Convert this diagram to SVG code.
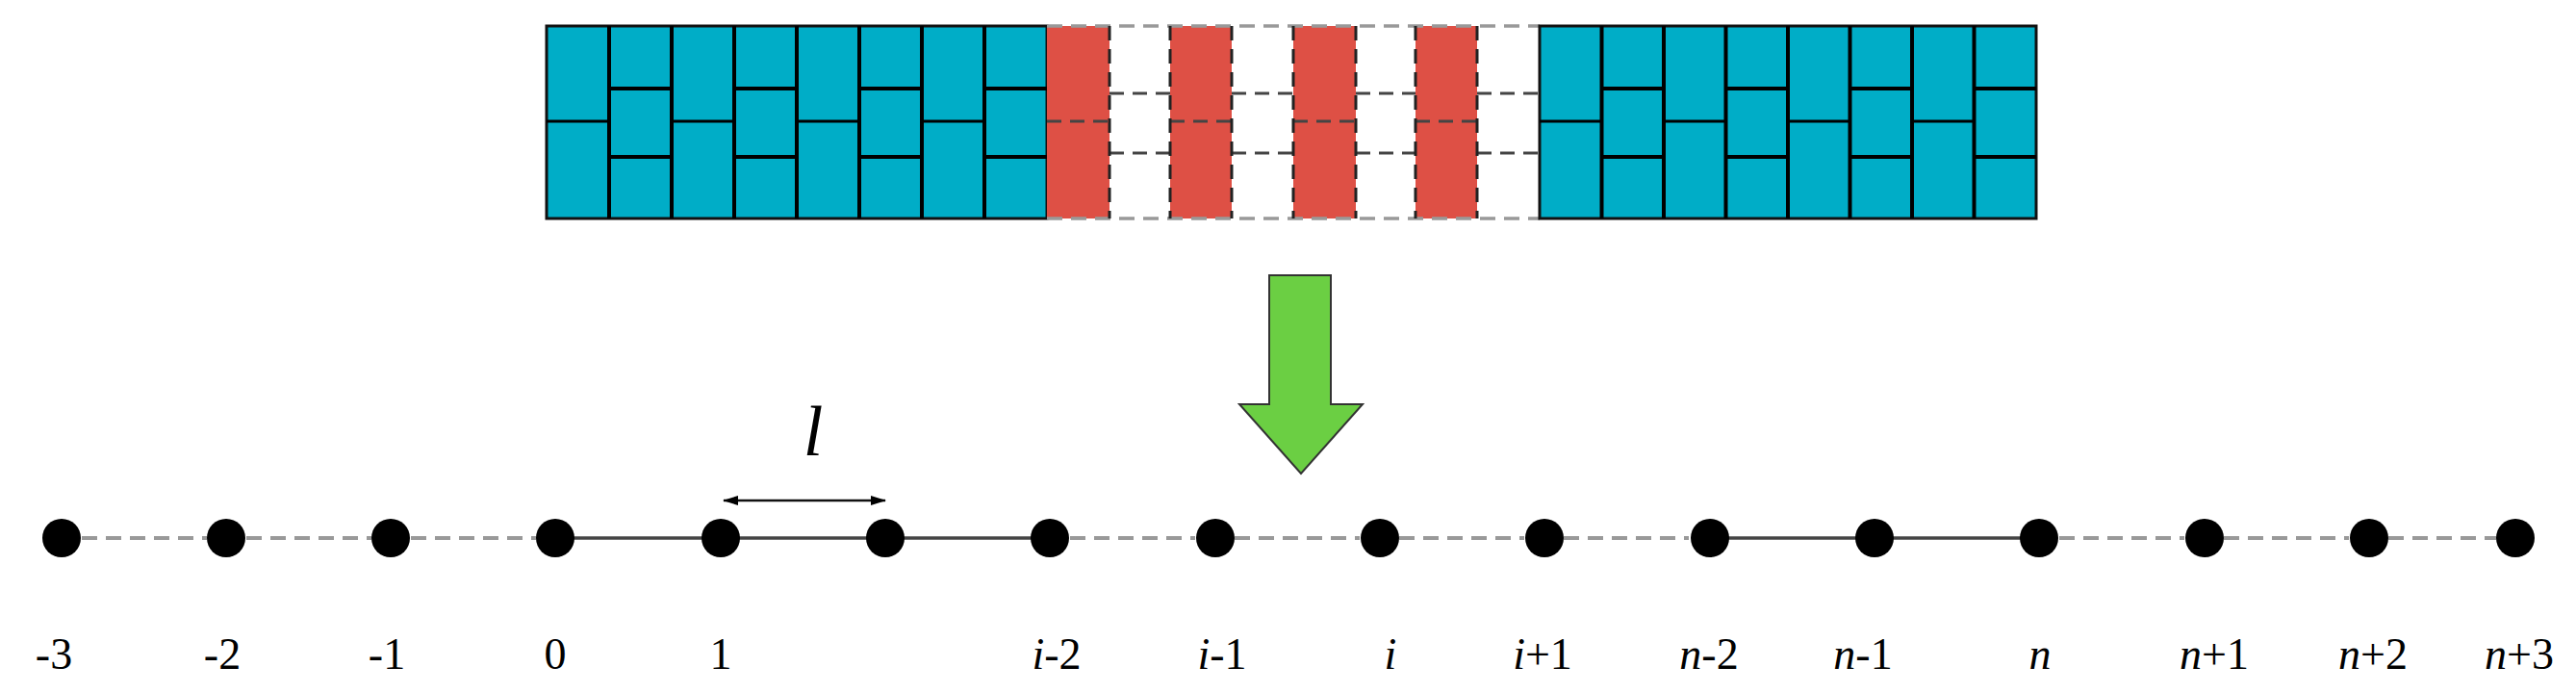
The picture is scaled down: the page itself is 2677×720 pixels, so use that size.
<svg xmlns="http://www.w3.org/2000/svg" width="2677" height="720" viewBox="0 0 2677 720">
<defs>
<style>
.blue{fill:#00ADC7;stroke:#111;stroke-width:3}
.bl{stroke:#000;stroke-width:4}
.red{fill:#DE5045}
.dv{stroke:#222;stroke-width:3;stroke-dasharray:15 9;fill:none}
.dh{stroke:#444;stroke-width:3;stroke-dasharray:15 9;fill:none}
.dg{stroke:#999;stroke-width:3.5;stroke-dasharray:16 9;fill:none}
.solid{stroke:#444;stroke-width:3.5;fill:none}
.dash{stroke:#999;stroke-width:4;stroke-dasharray:16 9;fill:none}
.node{fill:#000}
.lab{font-family:"Liberation Serif","Times New Roman",serif;font-size:46px;fill:#000;text-anchor:middle}
.it{font-style:italic}
</style>
<marker id="ah" viewBox="0 0 10 10" refX="9" refY="5" markerWidth="6" markerHeight="6" orient="auto-start-reverse" markerUnits="userSpaceOnUse">
<path d="M0,1 L10,5 L0,9 z" fill="#000"/>
</marker>
<marker id="ah2" viewBox="0 0 16 10" refX="15" refY="5" markerWidth="16" markerHeight="10" orient="auto-start-reverse" markerUnits="userSpaceOnUse">
<path d="M0,0 L16,5 L0,10 z" fill="#000"/>
</marker>
</defs>
<rect width="2677" height="720" fill="#fff"/>

<g id="panel">
<g id="left-block">
<rect class="blue" x="568" y="27" width="520" height="200"/>
<g class="bl">
<line x1="633" y1="27" x2="633" y2="227"/>
<line x1="698" y1="27" x2="698" y2="227"/>
<line x1="763" y1="27" x2="763" y2="227"/>
<line x1="828" y1="27" x2="828" y2="227"/>
<line x1="893" y1="27" x2="893" y2="227"/>
<line x1="958" y1="27" x2="958" y2="227"/>
<line x1="1023" y1="27" x2="1023" y2="227"/>
<line x1="568" y1="126" x2="633" y2="126" stroke-width="3"/>
<line x1="698" y1="126" x2="763" y2="126" stroke-width="3"/>
<line x1="828" y1="126" x2="893" y2="126" stroke-width="3"/>
<line x1="958" y1="126" x2="1023" y2="126" stroke-width="3"/>
<line x1="633" y1="92" x2="698" y2="92"/>
<line x1="633" y1="163" x2="698" y2="163"/>
<line x1="763" y1="92" x2="828" y2="92"/>
<line x1="763" y1="163" x2="828" y2="163"/>
<line x1="893" y1="92" x2="958" y2="92"/>
<line x1="893" y1="163" x2="958" y2="163"/>
<line x1="1023" y1="92" x2="1088" y2="92"/>
<line x1="1023" y1="163" x2="1088" y2="163"/>
</g>
</g>

<g id="middle">
<rect class="red" x="1088" y="27" width="65" height="200"/>
<rect class="red" x="1216" y="27" width="64" height="200"/>
<rect class="red" x="1344" y="27" width="65" height="200"/>
<rect class="red" x="1471" y="27" width="64" height="200"/>
<line class="dg" x1="1088" y1="27" x2="1600" y2="27"/>
<line class="dg" x1="1088" y1="227" x2="1600" y2="227"/>
<g class="dh">
<line x1="1088" y1="126" x2="1153" y2="126"/>
<line x1="1216" y1="126" x2="1280" y2="126"/>
<line x1="1344" y1="126" x2="1409" y2="126"/>
<line x1="1471" y1="126" x2="1535" y2="126"/>
<line x1="1153" y1="97" x2="1216" y2="97"/>
<line x1="1153" y1="159" x2="1216" y2="159"/>
<line x1="1280" y1="97" x2="1344" y2="97"/>
<line x1="1280" y1="159" x2="1344" y2="159"/>
<line x1="1409" y1="97" x2="1471" y2="97"/>
<line x1="1409" y1="159" x2="1471" y2="159"/>
<line x1="1535" y1="97" x2="1600" y2="97"/>
<line x1="1535" y1="159" x2="1600" y2="159"/>
</g>
<g class="dv">
<line x1="1153" y1="27" x2="1153" y2="227"/>
<line x1="1216" y1="27" x2="1216" y2="227"/>
<line x1="1280" y1="27" x2="1280" y2="227"/>
<line x1="1344" y1="27" x2="1344" y2="227"/>
<line x1="1409" y1="27" x2="1409" y2="227"/>
<line x1="1471" y1="27" x2="1471" y2="227"/>
<line x1="1535" y1="27" x2="1535" y2="227"/>
</g>
</g>

<g id="right-block">
<rect class="blue" x="1600" y="27" width="516" height="200"/>
<g class="bl">
<line x1="1664.5" y1="27" x2="1664.5" y2="227"/>
<line x1="1729" y1="27" x2="1729" y2="227"/>
<line x1="1793.5" y1="27" x2="1793.5" y2="227"/>
<line x1="1858" y1="27" x2="1858" y2="227"/>
<line x1="1922.5" y1="27" x2="1922.5" y2="227"/>
<line x1="1987" y1="27" x2="1987" y2="227"/>
<line x1="2051.5" y1="27" x2="2051.5" y2="227"/>
<line x1="1600" y1="126" x2="1664.5" y2="126" stroke-width="3"/>
<line x1="1729" y1="126" x2="1793.5" y2="126" stroke-width="3"/>
<line x1="1858" y1="126" x2="1922.5" y2="126" stroke-width="3"/>
<line x1="1987" y1="126" x2="2051.5" y2="126" stroke-width="3"/>
<line x1="1664.5" y1="92" x2="1729" y2="92"/>
<line x1="1664.5" y1="163" x2="1729" y2="163"/>
<line x1="1793.5" y1="92" x2="1858" y2="92"/>
<line x1="1793.5" y1="163" x2="1858" y2="163"/>
<line x1="1922.5" y1="92" x2="1987" y2="92"/>
<line x1="1922.5" y1="163" x2="1987" y2="163"/>
<line x1="2051.5" y1="92" x2="2116" y2="92"/>
<line x1="2051.5" y1="163" x2="2116" y2="163"/>
</g>
</g>
</g>

<g id="big-arrow">
<polygon points="1319,286 1383,286 1383,420 1416,420 1352,492 1288,420 1319,420" fill="#6BCF43" stroke="#333" stroke-width="2"/>
</g>

<g id="connectors">
<line class="dash" x1="85" y1="559" x2="215" y2="559"/>
<line class="dash" x1="256" y1="559" x2="386" y2="559"/>
<line class="dash" x1="427" y1="559" x2="557" y2="559"/>
<line class="solid" x1="577" y1="559" x2="1091" y2="559"/>
<line class="dash" x1="1112" y1="559" x2="1242" y2="559"/>
<line class="dash" x1="1283" y1="559" x2="1413" y2="559"/>
<line class="dash" x1="1454" y1="559" x2="1584" y2="559"/>
<line class="dash" x1="1625" y1="559" x2="1755" y2="559"/>
<line class="solid" x1="1777" y1="559" x2="2119" y2="559"/>
<line class="dash" x1="2140" y1="559" x2="2270" y2="559"/>
<line class="dash" x1="2311" y1="559" x2="2441" y2="559"/>
<line class="dash" x1="2482" y1="559" x2="2594" y2="559"/>
</g>

<g id="dimension">
<line x1="752" y1="520" x2="920" y2="520" stroke="#111" stroke-width="2.5" marker-start="url(#ah2)" marker-end="url(#ah2)"/>
<text x="845" y="473" font-family="Liberation Serif, serif" font-style="italic" font-size="74" text-anchor="middle">l</text>
</g>

<g id="nodes">
<g id="n-3"><circle class="node" cx="64" cy="559" r="20"/><text class="lab" x="56" y="695">-3</text></g>
<g id="n-2"><circle class="node" cx="235" cy="559" r="20"/><text class="lab" x="231" y="695">-2</text></g>
<g id="n-1"><circle class="node" cx="406" cy="559" r="20"/><text class="lab" x="402" y="695">-1</text></g>
<g id="n0"><circle class="node" cx="577" cy="559" r="20"/><text class="lab" x="577" y="695">0</text></g>
<g id="n1"><circle class="node" cx="749" cy="559" r="20"/><text class="lab" x="749" y="695">1</text></g>
<g id="n2"><circle class="node" cx="920" cy="559" r="20"/></g>
<g id="ni-2"><circle class="node" cx="1091" cy="559" r="20"/><text class="lab" x="1098" y="695"><tspan class="it">i</tspan>-2</text></g>
<g id="ni-1"><circle class="node" cx="1263" cy="559" r="20"/><text class="lab" x="1270" y="695"><tspan class="it">i</tspan>-1</text></g>
<g id="ni"><circle class="node" cx="1434" cy="559" r="20"/><text class="lab it" x="1445" y="695">i</text></g>
<g id="ni+1"><circle class="node" cx="1605" cy="559" r="20"/><text class="lab" x="1603" y="695"><tspan class="it">i</tspan>+1</text></g>
<g id="nn-2"><circle class="node" cx="1777" cy="559" r="20"/><text class="lab" x="1776" y="695"><tspan class="it">n</tspan>-2</text></g>
<g id="nn-1"><circle class="node" cx="1948" cy="559" r="20"/><text class="lab" x="1936" y="695"><tspan class="it">n</tspan>-1</text></g>
<g id="nn"><circle class="node" cx="2119" cy="559" r="20"/><text class="lab it" x="2120" y="695">n</text></g>
<g id="nn+1"><circle class="node" cx="2291" cy="559" r="20"/><text class="lab" x="2301" y="695"><tspan class="it">n</tspan>+1</text></g>
<g id="nn+2"><circle class="node" cx="2462" cy="559" r="20"/><text class="lab" x="2466" y="695"><tspan class="it">n</tspan>+2</text></g>
<g id="nn+3"><circle class="node" cx="2614" cy="559" r="20"/><text class="lab" x="2618" y="695"><tspan class="it">n</tspan>+3</text></g>
</g>
</svg>
